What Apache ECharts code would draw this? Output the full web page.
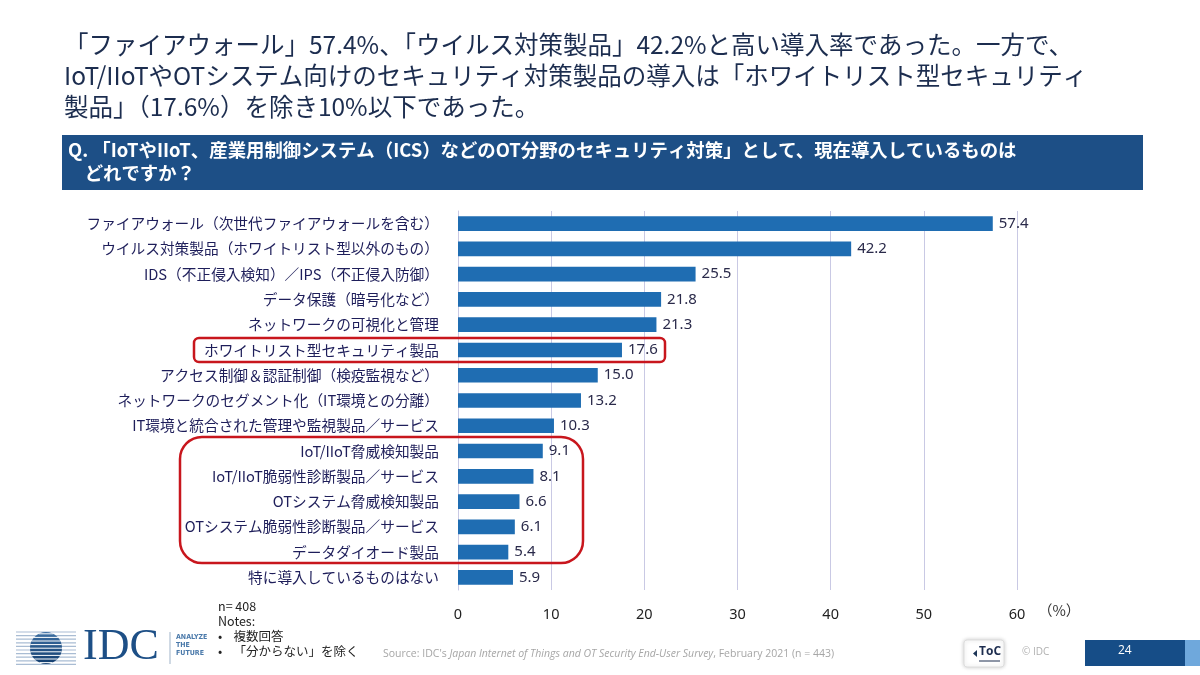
<!DOCTYPE html>
<html><head><meta charset="utf-8">
<script src="https://cdn.jsdelivr.net/npm/echarts@6/dist/echarts.min.js"></script>
<style>html,body{margin:0;padding:0;background:#fff}#c{width:1200px;height:675px}</style>
</head><body><div id="c"></div>
<script>
const categories = [
  'ファイアウォール（次世代ファイアウォールを含む）',
  'ウイルス対策製品（ホワイトリスト型以外のもの）',
  'IDS（不正侵入検知）／IPS（不正侵入防御）',
  'データ保護（暗号化など）',
  'ネットワークの可視化と管理',
  'ホワイトリスト型セキュリティ製品',
  'アクセス制御＆認証制御（検疫監視など）',
  'ネットワークのセグメント化（IT環境との分離）',
  'IT環境と統合された管理や監視製品／サービス',
  'IoT/IIoT脅威検知製品',
  'IoT/IIoT脆弱性診断製品／サービス',
  'OTシステム脅威検知製品',
  'OTシステム脆弱性診断製品／サービス',
  'データダイオード製品',
  '特に導入しているものはない'
];
const values = [57.4, 42.2, 25.5, 21.8, 21.3, 17.6, 15.0, 13.2, 10.3, 9.1, 8.1, 6.6, 6.1, 5.4, 5.9];
const xTicks = { min: 0, max: 60, interval: 10 };
const headline = [
  '「ファイアウォール」57.4%、「ウイルス対策製品」42.2%と高い導入率であった。一方で、',
  'IoT/IIoTやOTシステム向けのセキュリティ対策製品の導入は「ホワイトリスト型セキュリティ',
  '製品」（17.6%）を除き10%以下であった。'
];
const question = [
  'Q. 「IoTやIIoT、産業用制御システム（ICS）などのOT分野のセキュリティ対策」として、現在導入しているものは',
  '    どれですか？'
];
const notes = ['n= 408', 'Notes:', '•    複数回答', '•    「分からない」を除く'];

const JP = '"Noto Sans CJK JP", "Noto Sans", sans-serif';
const chart = echarts.init(document.getElementById('c'), null, { renderer: 'canvas' });

const g = [];
headline.forEach((t, i) => g.push({ type: 'text', left: 64, top: 32 + i * 31,
  style: { text: t, font: '24.5px ' + JP, fill: '#1c2d4f' } }));
g.push({ type: 'rect', shape: { x: 62, y: 135, width: 1081, height: 55 }, style: { fill: '#1d4f86' } });
question.forEach((t, i) => g.push({ type: 'text', left: 68, top: 141 + i * 23,
  style: { text: t, font: 'bold 18.4px ' + JP, fill: '#ffffff' } }));
// red highlight boxes
g.push({ type: 'rect', shape: { x: 194, y: 338, width: 471, height: 24, r: 5 },
  style: { fill: 'none', stroke: '#c8161d', lineWidth: 2.5 }, z: 100 });
g.push({ type: 'rect', shape: { x: 180, y: 437, width: 403, height: 126, r: 22 },
  style: { fill: 'none', stroke: '#c8161d', lineWidth: 2.5 }, z: 100 });
// x unit
g.push({ type: 'text', left: 1038, top: 603, style: { text: '（%）', font: '14.5px ' + JP, fill: '#333' } });
// notes
notes.forEach((t, i) => g.push({ type: 'text', left: 218, top: 600 + i * 15,
  style: { text: t, font: '12.5px ' + JP, fill: '#222' } }));
// source
g.push({ type: 'text', left: 383, top: 649, style: { rich: {
  a: { font: '10.5px "Open Sans", sans-serif', fill: '#a6a6a6' },
  b: { font: 'italic 10.5px "Open Sans", sans-serif', fill: '#a6a6a6' } },
  text: "{a|Source: IDC's }{b|Japan Internet of Things and OT Security End-User Survey}{a|, February 2021 (n = 443)}" } });
// ToC
g.push({ type: 'rect', shape: { x: 964, y: 640, width: 40, height: 27, r: 3 },
  style: { fill: '#fff', stroke: '#dddddd', lineWidth: 1, shadowBlur: 4, shadowColor: 'rgba(0,0,0,0.2)' } });
g.push({ type: 'polygon', shape: { points: [[973, 653.5], [977, 650], [977, 657]] }, style: { fill: '#1d3557' } });
g.push({ type: 'text', left: 979, top: 646, style: { text: 'ToC', font: 'bold 12px "Open Sans", sans-serif', fill: '#1d2d4f' } });
g.push({ type: 'line', shape: { x1: 979, y1: 661, x2: 1000, y2: 661 }, style: { stroke: '#1d2d4f', lineWidth: 1 } });
g.push({ type: 'text', left: 1022, top: 647, style: { text: '© IDC', font: '10px "Open Sans", sans-serif', fill: '#b0b0b0' } });
g.push({ type: 'rect', shape: { x: 1085, y: 640, width: 100, height: 26 }, style: { fill: '#164d87' } });
g.push({ type: 'rect', shape: { x: 1185, y: 640, width: 15, height: 26 }, style: { fill: '#6fa8dc' } });
g.push({ type: 'text', left: 1118, top: 645, style: { text: '24', font: '12px "Open Sans", sans-serif', fill: '#ffffff' } });
// IDC logo
const cx = 46, cy = 648, R = 16;
for (let y = 632; y <= 665; y += 3.6) {
  g.push({ type: 'line', shape: { x1: 16, y1: y, x2: 76, y2: y }, style: { stroke: '#a9bcd3', lineWidth: 1.2 } });
}
g.push({ type: 'circle', shape: { cx: cx, cy: cy, r: R }, style: { fill: new echarts.graphic.LinearGradient(0, 0, 0, 1, [{ offset: 0, color: '#3d6fa3' }, { offset: 1, color: '#123d6e' }]) } });
for (let y = 633.8; y <= 664; y += 3.6) {
  const dy = y - cy; if (Math.abs(dy) >= R) continue;
  const hw = Math.sqrt(R * R - dy * dy);
  g.push({ type: 'line', shape: { x1: cx - hw, y1: y, x2: cx + hw, y2: y }, style: { stroke: '#ffffff', lineWidth: 1 } });
}
g.push({ type: 'text', left: 83, top: 625, style: { text: 'IDC', font: '44px "Liberation Serif", "DejaVu Serif", serif', fill: '#1d4f86' } });
g.push({ type: 'line', shape: { x1: 170, y1: 632, x2: 170, y2: 664 }, style: { stroke: '#9fb3c8', lineWidth: 1 } });
['ANALYZE', 'THE', 'FUTURE'].forEach((t, i) => g.push({ type: 'text', left: 176, top: 634 + i * 8,
  style: { text: t, font: 'bold 7px "DejaVu Sans Condensed", sans-serif', fill: '#4a79aa' } }));

chart.setOption({
  animation: false,
  grid: { left: 458, right: 183, top: 211, bottom: 85, containLabel: false },
  xAxis: {
    type: 'value', min: xTicks.min, max: xTicks.max, interval: xTicks.interval,
    axisLine: { show: false }, axisTick: { show: false },
    splitLine: { show: true, lineStyle: { color: '#c9c9e4', width: 1 } },
    axisLabel: { fontSize: 14.5, color: '#222', margin: 17, fontFamily: '"Noto Sans", sans-serif' }
  },
  yAxis: {
    type: 'category', data: categories, inverse: true,
    axisLine: { show: true, lineStyle: { color: '#c9c9e4' } }, axisTick: { show: false },
    axisLabel: { fontSize: 14.7, color: '#1e1e5a', margin: 19, fontFamily: JP }
  },
  series: [{
    type: 'bar', data: values, barCategoryGap: '42%',
    itemStyle: { color: '#1f6db2' },
    label: { show: true, position: 'right', distance: 6, fontSize: 15, color: '#2a2a4a',
      fontFamily: '"Noto Sans", sans-serif', formatter: p => p.value.toFixed(1) }
  }],
  graphic: g
});
</script></body></html>
